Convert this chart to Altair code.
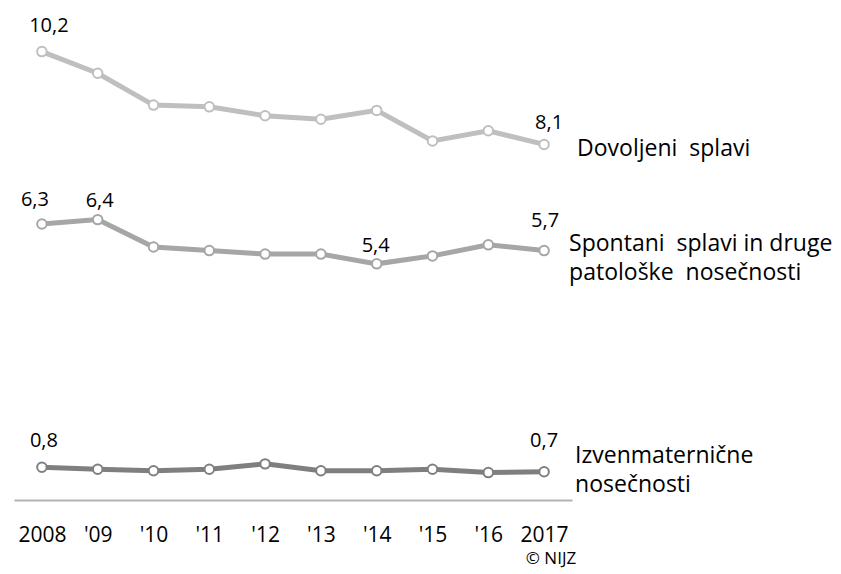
import altair as alt
import pandas as pd

# ---- data ----
years = ["2008", "'09", "'10", "'11", "'12", "'13", "'14", "'15", "'16", "2017"]
series_names = ["Dovoljeni splavi",
                "Spontani splavi in druge patološke nosečnosti",
                "Izvenmaternične nosečnosti"]
series_labels = ["Dovoljeni\u00a0 splavi",
                 "Spontani\u00a0 splavi in druge\npatološke\u00a0 nosečnosti",
                 "Izvenmaternične\nnosečnosti"]
dovoljeni = [10.2, 9.71, 8.99, 8.95, 8.75, 8.67, 8.87, 8.18, 8.41, 8.1]
spontani = [6.3, 6.4, 5.78, 5.70, 5.62, 5.62, 5.4, 5.58, 5.83, 5.7]
izven = [0.8, 0.755, 0.72, 0.755, 0.877, 0.72, 0.72, 0.755, 0.68, 0.7]
credit = ["© NIJZ"]

colors = ["#bfbfbf", "#a6a6a6", "#7f7f7f"]
FONT = "Open Sans"

all_series = [dovoljeni, spontani, izven]
rows = []
for name, vals in zip(series_names, all_series):
    for yr, v in zip(years, vals):
        rows.append({"year": yr, "series": name, "value": v})
df = pd.DataFrame(rows)

x_enc = alt.X("year:N", sort=years,
              scale=alt.Scale(type="point", padding=0.5),
              axis=alt.Axis(title=None, labelAngle=0, ticks=False, tickSize=0,
                            domainColor="#b3b3b3", domainWidth=2, grid=False,
                            labelFontSize=21, labelFont=FONT, labelColor="#000000",
                            labelPadding=24, labelFontWeight="normal"))
y_enc = alt.Y("value:Q", scale=alt.Scale(domain=[0.06, 11.14], nice=False, zero=False),
              axis=None)
cscale = alt.Scale(domain=series_names, range=colors)

lines = alt.Chart(df).mark_line(strokeWidth=5).encode(
    x=x_enc, y=y_enc,
    color=alt.Color("series:N", scale=cscale, legend=None),
)
points = alt.Chart(df).mark_point(shape="circle", fill="white", size=90,
                                   strokeWidth=2, opacity=1, fillOpacity=1).encode(
    x=x_enc, y=y_enc,
    stroke=alt.Stroke("series:N", scale=cscale, legend=None),
)

layers = [lines, points]

# value labels: (series index, year index) with placement offsets
value_label_spots = [(0, 0, 7, -20), (0, 9, 5, -15),
                     (1, 0, -7, -18), (1, 1, 2, -13), (1, 6, -1, -12), (1, 9, 1, -24),
                     (2, 0, 2, -20), (2, 9, 0, -25)]
for si, yi, dx, dy in value_label_spots:
    v = all_series[si][yi]
    d = pd.DataFrame({"year": [years[yi]], "value": [v],
                      "txt": [f"{v:.1f}".replace(".", ",")]})
    layers.append(alt.Chart(d).mark_text(font=FONT, fontSize=20, color="#000000",
                                         align="center", baseline="alphabetic",
                                         dx=dx, dy=dy).encode(
        x=x_enc, y=y_enc, text="txt:N"))

# series name labels next to the last point
name_offsets = [(33, 12), (25, 0), (31, -9)]
for si, (dx, dy) in enumerate(name_offsets):
    d = pd.DataFrame({"year": [years[-1]], "value": [all_series[si][-1]],
                      "txt": [series_labels[si]]})
    layers.append(alt.Chart(d).mark_text(font=FONT, fontSize=23, color="#000000",
                                         align="left", baseline="alphabetic",
                                         lineBreak="\n", lineHeight=29,
                                         dx=dx, dy=dy).encode(
        x=x_enc, y=y_enc, text="txt:N"))

cred = alt.Chart(pd.DataFrame({"txt": credit})).mark_text(
    font=FONT, fontSize=17, color="#000000", align="center", baseline="alphabetic").encode(
    x=alt.value(537), y=alt.value(554), text="txt:N")
layers.append(cred)

chart = alt.layer(*layers).properties(
    width=558, height=490,
    autosize=alt.AutoSizeParams(type="none"),
    padding={"left": 6, "top": 2, "right": 261, "bottom": 74},
    background="white",
).configure_view(stroke=None)

chart.save("out.html", embed_options={"renderer": "svg", "actions": False})
